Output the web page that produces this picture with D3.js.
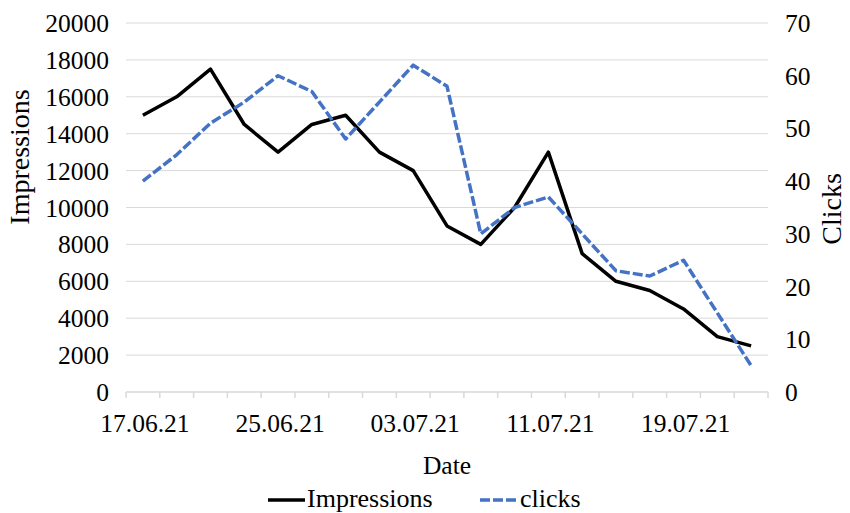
<!DOCTYPE html>
<html>
<head>
<meta charset="utf-8">
<script src="https://cdn.jsdelivr.net/npm/d3@7"></script>
<style>
  body { margin: 0; background: #fff; }
</style>
</head>
<body>
<div id="chart"></div>
<script>
const dates = ["17.06.21", "19.06.21", "21.06.21", "23.06.21", "25.06.21", "27.06.21", "29.06.21",
    "01.07.21", "03.07.21", "05.07.21", "07.07.21", "09.07.21", "11.07.21", "13.07.21",
    "15.07.21", "17.07.21", "19.07.21", "21.07.21", "23.07.21"];
const impressions = [15000, 16000, 17500, 14500, 13000, 14500, 15000, 13000, 12000, 9000,
    8000, 10000, 13000, 7500, 6000, 5500, 4500, 3000, 2500];
const clicks = [40, 45, 51, 55, 60, 57, 48, 55, 62, 58, 30, 35, 37, 30, 23, 22, 25, 15, 5];
const leftTicks = [0, 2000, 4000, 6000, 8000, 10000, 12000, 14000, 16000, 18000, 20000];
const rightTicks = [0, 10, 20, 30, 40, 50, 60, 70];
const labelDates = ["17.06.21", "25.06.21", "03.07.21", "11.07.21", "19.07.21"];

const width = 850, height = 513;
const plotLeft = 126, plotRight = 768, plotTop = 23, plotBottom = 392;
const fs = 25.5;

const svg = d3.select("#chart").append("svg")
    .attr("width", width)
    .attr("height", height)
    .attr("font-family", "'Liberation Serif', 'Times New Roman', 'DejaVu Serif', serif");

const x = d3.scaleBand().domain(dates).range([plotLeft, plotRight]).padding(0);
const yL = d3.scaleLinear().domain([0, 20000]).range([plotBottom, plotTop]);
const yR = d3.scaleLinear().domain([0, 70]).range([plotBottom, plotTop]);
const cx = d => x(d) + x.bandwidth() / 2;

// gridlines
svg.append("g")
    .selectAll("line")
    .data(leftTicks.filter(d => d > 0))
    .join("line")
    .attr("x1", plotLeft).attr("x2", plotRight)
    .attr("y1", d => yL(d)).attr("y2", d => yL(d))
    .attr("stroke", "#d9d9d9")
    .attr("stroke-width", 1);

// bottom axis line + ticks between categories
svg.append("line")
    .attr("x1", plotLeft).attr("x2", plotRight)
    .attr("y1", plotBottom).attr("y2", plotBottom)
    .attr("stroke", "#d9d9d9").attr("stroke-width", 1.5);

svg.append("g")
    .selectAll("line")
    .data(d3.range(dates.length + 1))
    .join("line")
    .attr("x1", i => plotLeft + i * x.step()).attr("x2", i => plotLeft + i * x.step())
    .attr("y1", plotBottom).attr("y2", plotBottom + 6)
    .attr("stroke", "#d9d9d9").attr("stroke-width", 1.5);

// left labels
svg.append("g")
    .selectAll("text")
    .data(leftTicks)
    .join("text")
    .attr("x", 109)
    .attr("y", d => yL(d) + 9)
    .attr("text-anchor", "end")
    .attr("font-size", fs)
    .text(d => d);

// right labels
svg.append("g")
    .selectAll("text")
    .data(rightTicks)
    .join("text")
    .attr("x", 785)
    .attr("y", d => yR(d) + 9)
    .attr("text-anchor", "start")
    .attr("font-size", fs)
    .text(d => d);

// x labels
svg.append("g")
    .selectAll("text")
    .data(labelDates)
    .join("text")
    .attr("x", d => cx(d) + 2)
    .attr("y", 432)
    .attr("text-anchor", "middle")
    .attr("font-size", fs)
    .text(d => d);

// axis titles
svg.append("text")
    .attr("x", (plotLeft + plotRight) / 2).attr("y", 474)
    .attr("text-anchor", "middle")
    .attr("font-size", fs)
    .text("Date");

svg.append("text")
    .attr("transform", "translate(29,157) rotate(-90)")
    .attr("text-anchor", "middle")
    .attr("font-size", 28)
    .text("Impressions");

svg.append("text")
    .attr("transform", "translate(841,209) rotate(-90)")
    .attr("text-anchor", "middle")
    .attr("font-size", 28)
    .text("Clicks");

// lines
const lineL = d3.line().x((d, i) => cx(dates[i])).y(d => yL(d));
const lineR = d3.line().x((d, i) => cx(dates[i])).y(d => yR(d));

svg.append("path")
    .datum(impressions)
    .attr("d", lineL)
    .attr("fill", "none")
    .attr("stroke", "#000")
    .attr("stroke-width", 3.5)
    .attr("stroke-linejoin", "round");

svg.append("path")
    .datum(clicks)
    .attr("d", lineR)
    .attr("fill", "none")
    .attr("stroke", "#4472c4")
    .attr("stroke-width", 3.5)
    .attr("stroke-dasharray", "10,3")
    .attr("stroke-linejoin", "round");

// legend
const legend = svg.append("g");
legend.append("line")
    .attr("x1", 268).attr("x2", 305).attr("y1", 500).attr("y2", 500)
    .attr("stroke", "#000").attr("stroke-width", 3.5);
legend.append("text")
    .attr("x", 307).attr("y", 507)
    .attr("font-size", 26)
    .text("Impressions");
legend.append("line")
    .attr("x1", 480).attr("x2", 518).attr("y1", 500).attr("y2", 500)
    .attr("stroke", "#4472c4").attr("stroke-width", 3.5)
    .attr("stroke-dasharray", "10,3");
legend.append("text")
    .attr("x", 520).attr("y", 507)
    .attr("font-size", 26)
    .text("clicks");
</script>
</body>
</html>
